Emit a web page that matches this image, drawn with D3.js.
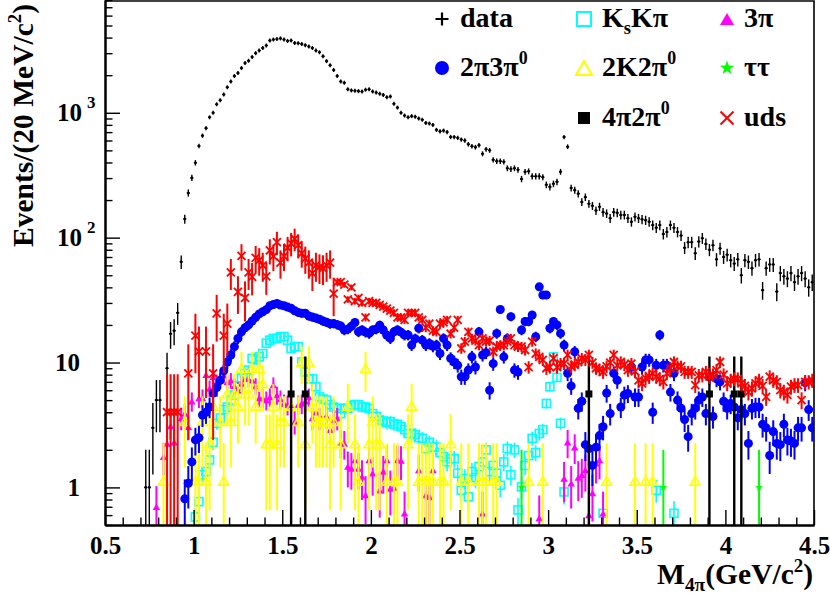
<!DOCTYPE html>
<html><head><meta charset="utf-8">
<script src="https://cdn.jsdelivr.net/npm/d3@7/dist/d3.min.js"></script>
<style>
html,body{margin:0;padding:0;background:#fff;}
svg{display:block;}
text{font-family:"Liberation Serif","Times New Roman",Times,serif;font-weight:bold;fill:#000;}
</style></head><body>
<svg id="chart" width="830" height="597"></svg>
<script>
// ================= DATA =================
const binWidth = 0.02;
const xTickValues = [0.5,1,1.5,2,2.5,3,3.5,4,4.5];
const xTickLabels = ["0.5","1","1.5","2","2.5","3","3.5","4","4.5"];
const yTickValues = [1,10,100,1000];
const yTickBase = ["1","10","10","10"];
const yTickExp = ["","","2","3"];

// data (black +), 20 MeV bins starting at 0.73 GeV
const dataStart = 0.73;
const dataValues = [1,1,3,5,5,0,9,17,18,25,
64,141,228,301,398,542,656,753,920,1000,
1170,1260,1400,1600,1780,1970,2080,2280,2500,2610,
2800,3000,3150,3300,3460,3790,3860,3890,3940,3860,
3760,3790,3620,3600,3550,3480,3390,3300,3150,3050,
2830,2590,2400,2200,1970,1780,1740,1540,1510,1500,
1490,1480,1530,1540,1480,1450,1420,1390,1330,1350,
1180,1100,1000,950,920,940,930,900,880,830,
820,800,730,710,720,700,640,640,630,610,
600,560,540,530,550,470,510,500,420,410,
410,405,360,355,360,350,295,337,340,310,
310,310,305,265,255,270,280,337,640,535,
250,240,225,193,211,187,180,165,177,160,
156,143,160,158,152,152,143,134,147,143,
140,138,134,126,120,126,107,111,126,120,
111,104,83,92,92,75,93,99,89,80,
87,67,82,70,73,66,62,67,50,66,
64,57,66,67,38,57,61,61,37,52,
49,47,52,44,49,52,47,40,44];

// 2pi3pi0 (blue circles)
const pipi3pi0Start = 0.95;
const pipi3pi0Values = [0.81,1.08,1.6,2.4,2.5,3.8,4.0,4.4,5.7,6.3,
7.2,8.6,10.1,11.5,13.4,15.6,17.6,19,20,21.5,
23,24.5,25.5,26.5,28.5,29.1,29.7,28.9,28.5,27.8,
27.2,26,25.2,24.8,24.8,23.6,23.1,22.7,22.2,21.5,
21,20.4,20.5,20.1,19.6,18.2,18.5,19.5,20.9,17.6,
18.2,17.5,17.1,18.2,18.5,19.9,18.2,16.5,15.6,17.6,
18.2,17.5,16.6,16.6,13.8,15.5,18.8,15.1,13.8,14.2,
13.5,13.8,11.8,15.6,13.8,10.8,10.1,9.5,7.7,7.7,
8.7,11.1,9.2,17.6,11.5,12,6.0,9.8,17.1,26.6,
11.1,15.6,23.3,8.7,8.4,18.2,21.3,21.3,24,16.1,
40.4,34.7,34.7,18.8,21.3,20,17.1,13.8,8.2,6.5,
12.2,4.3,4.9,2.2,2.05,1.5,2.1,2.6,3.06,5.7,
3.9,8.2,7.2,4.4,5.5,5.66,9.2,5.3,5.3,9.2,
10.5,10.5,4.0,9.5,16.6,9.5,9.5,5.8,8.2,5.0,
4.3,3.5,2.55,3.9,4.3,5.0,5.3,3.9,7.7,3.7,
7.4,7.0,4.9,4.3,4.7,4.4,3.6,4.2,3.9,2.25,
4.3,4.4,4.4,3.2,3.0,1.8,2.8,2.25,2.2,3.2,
2.4,2.35,2.25,3.0,3.0,6.9,4.2,3.0];

// KsKpi (cyan open squares)
const kskpiStart = 1.01;
const kskpiValues = [0.58,0.77,1.26,1.34,1.66,2.3,3.26,3.6,4.2,4.4,
5.0,5.5,6.5,7.5,8.2,8.7,10.8,10.5,11.1,11.8,
14.3,15.1,15.6,15.6,16.1,16.1,15.1,13,13.4,13.4,
10.1,8.4,7.4,7.4,6.4,5.3,5.1,5.0,4.6,4.4,
4.3,3.9,4.3,4.3,4.5,4.6,4.6,4.4,4.4,4.3,
3.9,3.7,3.46,3.4,3.3,3.36,3.2,3.2,3.06,2.9,
2.7,2.7,2.65,2.5,2.47,2.05,2.3,2.1,2.1,1.9,
1.76,1.6,1.7,1.7,1.3,0.95,1.18,0.84,1.34,1.2,
1.47,1.6,2.0,1.34,1.5,1.3,1.04,1.6,2.05,1.26,
2.0,0.66,1.01,1.5,1.8,2.47,1.9,2.7,2.9,4.7,
6.4,11.1,7.6,3.26,0.92];
const kskpiExtraMass = [3.31,3.61,3.71];
const kskpiExtraValues = [0.62,0.95,0.62];

// 2K2pi0 (yellow open triangles)
const kk2pi0Mass = [0.83,0.95,1.01,1.03,1.05,1.07,1.09,1.11,1.15,1.17,
1.19,1.21,1.23,1.25,1.27,1.29,1.31,1.33,1.35,1.37,
1.39,1.41,1.43,1.45,1.47,1.49,1.51,1.55,1.59,1.61,
1.63,1.65,1.67,1.69,1.71,1.73,1.75,1.77,1.79,1.83,
1.87,1.91,1.93,1.97,1.99,2.01,2.03,2.05,2.09,2.13,
2.15,2.21,2.23,2.27,2.29,2.31,2.33,2.35,2.39,2.41,
2.45,2.51,2.55,2.61,2.63,2.65,2.69,2.71,2.89,2.97,
3.33,3.49,3.55,3.59,3.83];
const kk2pi0Values = [1.13,3.4,1.13,1.13,3.4,1.13,2.25,4.5,3.4,1.13,
5.66,3.4,5.66,4.5,9,5.66,5.66,9,4.5,9,
6.8,2.25,2.25,4.5,2.25,3.4,3.4,4.5,3.4,10.1,
2.25,10.1,4.5,3.4,3.4,3.4,3.4,2.25,3.4,2.25,
4.5,2.25,1.13,9,2.25,3.4,2.25,2.25,1.13,1.13,
1.13,2.25,4.5,1.13,1.13,1.13,1.13,1.13,1.13,1.13,
2.25,1.13,1.13,1.13,1.13,1.13,1.13,1.13,1.13,1.13,
1.13,1.13,1.13,1.13,1.13];

// 3pi (magenta filled triangles)
const pi3Mass = [0.79,0.83,0.85,0.87,0.89,0.93,0.95,0.97,0.99,1.03,
1.05,1.07,1.09,1.11,1.13,1.15,1.17,1.19,1.21,1.23,
1.25,1.27,1.29,1.31,1.33,1.35,1.37,1.39,1.41,1.43,
1.45,1.47,1.49,1.51,1.53,1.55,1.57,1.59,1.61,1.63,
1.65,1.67,1.69,1.71,1.73,1.75,1.77,1.79,1.81,1.83,
1.85,1.87,1.89,1.91,1.93,1.95,1.97,1.99,2.01,2.05,
2.07,2.09,2.11,2.13,2.15,2.17,2.19,2.27,2.31,2.33,
2.35,2.63,2.95,3.09,3.11,3.13,3.15,3.17,3.19,3.21,
3.23,3.25,3.27,3.29,3.31];
const pi3Values = [0.7,1.76,2.25,3.1,2.3,3.6,3.9,3.06,4.9,5.2,
5.2,8.0,6.2,7.7,7.0,7.4,7.9,7.0,7.2,6.5,
6.0,6.8,7.4,7.4,7.2,6.5,5.2,5.2,5.0,5.3,
6.6,5.5,5.1,4.7,4.6,4.6,3.36,4.6,4.7,4.9,
5.3,3.6,4.0,3.6,3.7,3.7,2.9,3.5,3.6,2.3,
2.25,1.47,1.42,1.66,1.42,1.22,0.87,1.66,1.3,0.95,
1.34,1.66,0.98,1.0,1.66,1.64,0.62,1.38,0.87,0.84,
1.38,0.62,0.57,1.18,2.3,1.08,2.1,1.2,1.26,1.38,
0.6,0.9,1.56,1.66,0.62];

// 4pi2pi0 (black filled squares)
const pi4pi0Mass = [1.55,1.63,3.23,3.91,4.05,4.09];
const pi4pi0Values = [5.6,5.6,5.6,5.6,5.6,5.6];

// tautau (green stars)
const tautauMass = [2.85,3.65,4.19];
const tautauValues = [1,1,1];

// uds (red crosses)
const udsStart = 0.85;
const udsValues = [4,4,4,4,0,0,8.2,0,16.4,12.3,
0,12.3,0,8.2,24.8,0,16.4,20.5,52.8,0,
36.8,71.5,33,52.8,48.6,69,66,60,49,79,
71,92,63,71,83,90,98,87,75,68,
63,52,60,58,57,60,63,35.6,44,44,
42,32,40,31,33,30,23,31,30,30,
29,28,27,26,25,23,23,22,25,25,
25,23,22,19,20.5,18,17.6,20.5,21,22,
17,19,22,13,14.7,17.6,15.6,15,13.8,15.6,
14.7,15,12.2,13.4,13.8,13.8,14.7,15.6,13.8,13.4,
13.4,12.6,9.2,14.7,11.8,11.1,10.5,9.0,9.2,10.8,
9.2,9.8,9.8,11.5,9.3,9.6,10.1,10.8,10.5,11.5,
10,9.0,8.8,8.4,9.3,10,11.5,9.5,10.1,9.6,
8.7,9.8,8.5,7.2,6.8,7.5,7.7,8.2,7.7,7.4,
7.0,8.2,9,10.1,9.3,9.3,8.4,8.4,8.4,6.6,
7.9,7.9,8.4,7.7,8,8.7,10.1,8,6.8,7.2,
7.4,7.4,6.8,6.5,5.8,6.2,6.8,7.2,6.5,5.3,
7.7,7.2,7.0,6.0,5.8,5.5,6.4,6.6,6.6,5.0,
7.0,7.0,7.2];

// per-event weights used for the error bars (err = sqrt(value*weight))
const errWeight = {data:1, pipi3pi0:0.15, kskpi:0.04, kk2pi0:1.13, pi3:0.15, pi4pi0:5.6, tautau:1, udsLow:4.1, udsHigh:0.12};
const udsWeightSplit = 1.8;

// ================= DRAWING =================
const svg = d3.select("#chart");
const L = 105, R = 814, T = 0, B = 525;
const x = d3.scaleLinear().domain([0.5, 4.5]).range([L, R]);
const y = d3.scaleLog().domain([0.5, 8000]).range([B, T]);

const dense = (start, vals) => vals.map((v, i) => ({m: +(start + i * binWidth).toFixed(2), v}));
const sparse = (ms, vals) => ms.map((m, i) => ({m, v: vals[i]}));

svg.append("defs").append("clipPath").attr("id", "clip")
  .append("rect").attr("x", L).attr("y", T).attr("width", R - L).attr("height", B - T);
const plot = svg.append("g").attr("clip-path", "url(#clip)");

function starPath(cx, cy, Ro) {
  const Ri = Ro * 0.4; let d = "";
  for (let k = 0; k < 10; k++) {
    const r = k % 2 ? Ri : Ro, a = -Math.PI / 2 + k * Math.PI / 5;
    d += (k ? "L" : "M") + (cx + r * Math.cos(a)).toFixed(2) + "," + (cy + r * Math.sin(a)).toFixed(2);
  }
  return d + "Z";
}
function marker(g, type, cx, cy, s, color, sw) {
  const h = s / 2;
  if (type === "plus") {
    g.append("path").attr("d", `M${cx - h},${cy}H${cx + h}M${cx},${cy - h}V${cy + h}`)
      .attr("stroke", color).attr("stroke-width", sw).attr("fill", "none");
  } else if (type === "circle") {
    g.append("circle").attr("cx", cx).attr("cy", cy).attr("r", h).attr("fill", color);
  } else if (type === "openSquare") {
    g.append("rect").attr("x", cx - h).attr("y", cy - h).attr("width", s).attr("height", s)
      .attr("fill", "none").attr("stroke", color).attr("stroke-width", sw);
  } else if (type === "square") {
    g.append("rect").attr("x", cx - h).attr("y", cy - h).attr("width", s).attr("height", s).attr("fill", color);
  } else if (type === "openTriangle" || type === "triangle") {
    const th = s * 0.866;
    const p = g.append("path").attr("d", `M${cx},${cy - th / 2}L${cx - h},${cy + th / 2}L${cx + h},${cy + th / 2}Z`);
    if (type === "triangle") p.attr("fill", color);
    else p.attr("fill", "none").attr("stroke", color).attr("stroke-width", sw).attr("stroke-linejoin", "miter");
  } else if (type === "star") {
    g.append("path").attr("d", starPath(cx, cy, h)).attr("fill", color);
  } else if (type === "cross") {
    g.append("path").attr("d", `M${cx - h},${cy - h}L${cx + h},${cy + h}M${cx - h},${cy + h}L${cx + h},${cy - h}`)
      .attr("stroke", color).attr("stroke-width", sw).attr("fill", "none");
  }
}

const series = [
  {key: "data", pts: dense(dataStart, dataValues), color: "#000", marker: "dataPlus", w: () => errWeight.data, ew: 1.4},
  {key: "kskpi", pts: dense(kskpiStart, kskpiValues).concat(sparse(kskpiExtraMass, kskpiExtraValues)), color: "#00ffff", marker: "openSquare", size: 8, sw: 1.6, w: () => errWeight.kskpi, ew: 1.6},
  {key: "pi3", pts: sparse(pi3Mass, pi3Values), color: "#ff00ff", marker: "triangle", size: 7.5, w: () => errWeight.pi3, ew: 2},
  {key: "kk2pi0", pts: sparse(kk2pi0Mass, kk2pi0Values), color: "#ffff00", marker: "openTriangle", size: 10, sw: 1.6, w: () => errWeight.kk2pi0, ew: 2},
  {key: "pipi3pi0", pts: dense(pipi3pi0Start, pipi3pi0Values), color: "#0000ff", marker: "circle", size: 9, w: () => errWeight.pipi3pi0, ew: 2},
  {key: "pi4pi0", pts: sparse(pi4pi0Mass, pi4pi0Values), color: "#000", marker: "square", size: 7, w: () => errWeight.pi4pi0, ew: 2.4},
  {key: "tautau", pts: sparse(tautauMass, tautauValues), color: "#00ff00", marker: "star", size: 8, w: () => errWeight.tautau, ew: 2},
  {key: "uds", pts: dense(udsStart, udsValues), color: "#ff0000", marker: "cross", size: 8, sw: 1.8,
   w: (m) => (m < udsWeightSplit ? errWeight.udsLow : errWeight.udsHigh), ew: 2}
];

series.forEach(s => {
  const g = plot.append("g").attr("class", "series-" + s.key);
  s.pts.forEach(p => {
    if (!(p.v > 0)) return;
    const cx = x(p.m), cy = y(p.v);
    const e = Math.sqrt(p.v * s.w(p.m));
    const yHi = y(p.v + e), yLo = y(Math.max(p.v - e, 1e-3));
    if (s.marker === "dataPlus") {
      g.append("line").attr("x1", cx).attr("x2", cx)
        .attr("y1", Math.min(yHi, cy - 2)).attr("y2", Math.max(yLo, cy + 2))
        .attr("stroke", s.color).attr("stroke-width", s.ew);
      g.append("line").attr("x1", x(p.m - binWidth / 2) + 0.2).attr("x2", x(p.m + binWidth / 2) - 0.2)
        .attr("y1", cy).attr("y2", cy).attr("stroke", s.color).attr("stroke-width", 1.4);
      g.append("circle").attr("cx", cx).attr("cy", cy).attr("r", 1.3).attr("fill", s.color);
    } else {
      g.append("line").attr("x1", cx).attr("x2", cx).attr("y1", yHi).attr("y2", yLo)
        .attr("stroke", s.color).attr("stroke-width", s.ew);
      marker(g, s.marker, cx, cy, s.size, s.color, s.sw);
    }
  });
});

// ---------- axes ----------
const FS = 25;
const xMinor = [];
for (let k = 6; k < 45; k++) if (k % 5 !== 0) xMinor.push(k / 10);
const yMinor = [];
[0.1, 1, 10, 100, 1000].forEach(dec => { for (let k = 2; k <= 9; k++) { const v = dec * k; if (v >= 0.5 && v <= 8000) yMinor.push(v); } });

const gxm = svg.append("g").attr("transform", `translate(0,${B})`)
  .call(d3.axisBottom(x).tickValues(xMinor).tickSizeInner(-7.5).tickSizeOuter(0).tickFormat(""));
const gx = svg.append("g").attr("transform", `translate(0,${B})`)
  .call(d3.axisBottom(x).tickValues(xTickValues).tickSizeInner(-15).tickSizeOuter(0).tickPadding(11)
    .tickFormat((d, i) => xTickLabels[i]));
const gym = svg.append("g").attr("transform", `translate(${L},0)`)
  .call(d3.axisLeft(y).tickValues(yMinor).tickSizeInner(-7.5).tickSizeOuter(0).tickFormat(""));
const gy = svg.append("g").attr("transform", `translate(${L},0)`)
  .call(d3.axisLeft(y).tickValues(yTickValues).tickSizeInner(-15).tickSizeOuter(0).tickPadding(25)
    .tickFormat((d, i) => yTickBase[i]));

[gxm, gx, gym, gy].forEach(g => {
  g.attr("font-size", FS).attr("font-family", null);
  g.selectAll(".tick line").attr("stroke-width", 1.4);
  g.select(".domain").attr("stroke-width", 2);
});
gy.selectAll(".tick").each(function (d, i) {
  if (yTickExp[i]) {
    d3.select(this).select("text").attr("x", -23);
    d3.select(this).append("text").attr("x", -18).attr("y", -5)
      .attr("font-size", 17).attr("text-anchor", "start").attr("fill", "#000").text(yTickExp[i]);
  }
});

// frame (top and right)
svg.append("path").attr("d", `M${L},${T + 1}H${R}V${B}`).attr("fill", "none").attr("stroke", "#000").attr("stroke-width", 1.6);

// ---------- axis titles ----------
function richText(sel, parts, fs) {
  let shift = 0;
  parts.forEach(([t, kind]) => {
    let target = 0, size = fs;
    if (kind === "sub") { target = fs * 0.24; size = fs * 0.66; }
    if (kind === "sup") { target = -fs * 0.42; size = fs * 0.64; }
    sel.append("tspan").attr("dy", target - shift).attr("font-size", size).text(t);
    shift = target;
  });
}
const TFS = 29.5;
const xTitle = svg.append("text").attr("x", 813).attr("y", 584).attr("text-anchor", "end").attr("font-size", TFS);
richText(xTitle, [["M"], ["4π", "sub"], ["(GeV/c"], ["2", "sup"], [")"]], TFS);

const yTitle = svg.append("text").attr("transform", "translate(33,4) rotate(-90)").attr("text-anchor", "end").attr("font-size", TFS);
richText(yTitle, [["Events/(20 MeV/c"], ["2", "sup"], [")"]], TFS);

// ---------- legend ----------
const legendEntries = [
  {col: 0, row: 0, marker: "plus", color: "#000", size: 13, sw: 2.2, label: [["data"]]},
  {col: 1, row: 0, marker: "openSquare", color: "#00ffff", size: 14, sw: 2, label: [["K"], ["s", "sub"], ["Kπ"]]},
  {col: 2, row: 0, marker: "triangle", color: "#ff00ff", size: 14, label: [["3π"]]},
  {col: 0, row: 1, marker: "circle", color: "#0000ff", size: 14, label: [["2π3π"], ["0", "sup"]]},
  {col: 1, row: 1, marker: "openTriangle", color: "#ffff00", size: 16, sw: 2, label: [["2K2π"], ["0", "sup"]]},
  {col: 2, row: 1, marker: "star", color: "#00ff00", size: 15, label: [["ττ"]]},
  {col: 1, row: 2, marker: "square", color: "#000", size: 12, label: [["4π2π"], ["0", "sup"]]},
  {col: 2, row: 2, marker: "cross", color: "#ff0000", size: 13, sw: 2, label: [["uds"]]}
];
const legMarkerX = [442, 584, 727], legTextX = [460, 602, 744];
const legMarkerY = [19, 68, 118], legTextY = [27, 76, 126];
const leg = svg.append("g");
legendEntries.forEach(e => {
  marker(leg, e.marker, legMarkerX[e.col], legMarkerY[e.row], e.size, e.color, e.sw);
  const t = leg.append("text").attr("x", legTextX[e.col]).attr("y", legTextY[e.row]).attr("font-size", 28);
  richText(t, e.label, 28);
});
</script>
</body></html>
